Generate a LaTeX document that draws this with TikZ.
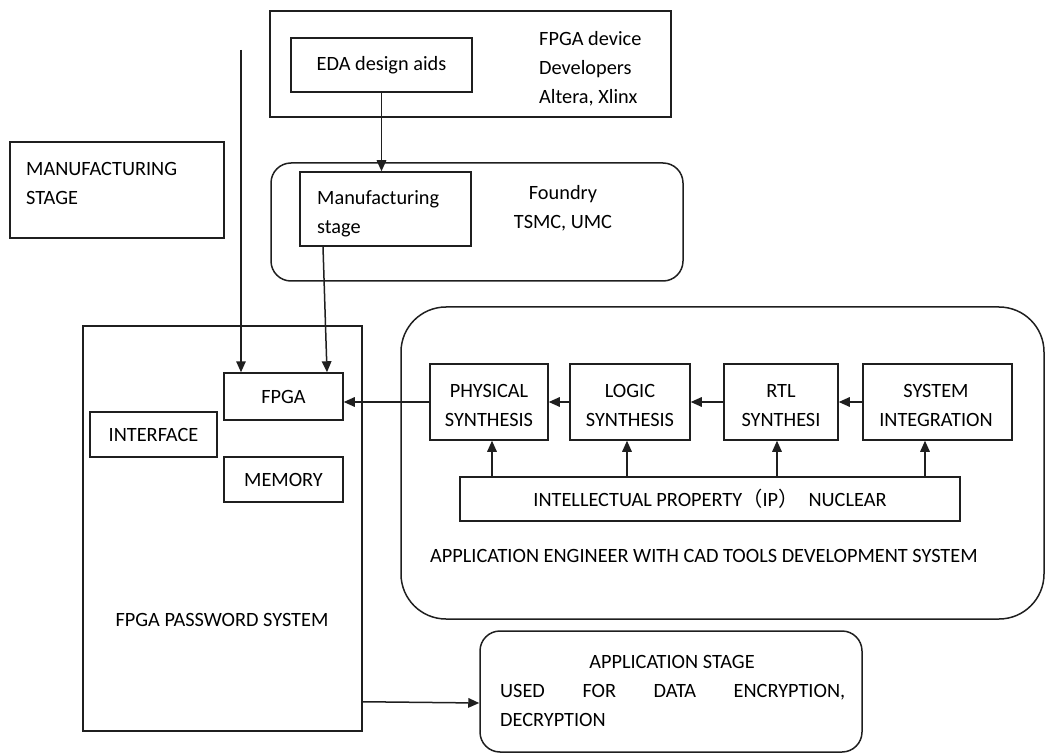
\documentclass[tikz,border=0pt]{standalone}
\usepackage{fontspec}
\setmainfont{Carlito}
\newfontfamily\cjk{Noto Sans CJK SC}
\usetikzlibrary{arrows.meta}
\begin{document}
\begin{tikzpicture}[x=1pt,y=-1pt,
  font=\fontsize{20.3pt}{29pt}\selectfont,
  box/.style={draw=black!88, line width=1.5pt, inner sep=0pt, align=center},
  rbox/.style={box, rounded corners=20pt},
  txt/.style={inner sep=0pt},
  arr/.style={draw=black!88, line width=1.5pt, -{Triangle[length=11pt,width=9.5pt]}}]
\useasboundingbox (0,0) rectangle (1045,754);

% top developers block
\node[box, minimum width=401pt, minimum height=106pt] (dev) at (470.5,64) {};
\node[box, minimum width=181pt, minimum height=54pt] (eda) at (381.5,65) {EDA design aids};
\node[txt, anchor=west, align=left] (devtxt) at (539,68.5) {FPGA device\\Developers\\Altera, Xlinx};

% foundry block
\node[rbox, minimum width=412pt, minimum height=118pt] (fdy) at (477,222) {};
\node[box, minimum width=171pt, minimum height=74pt] (mst) at (385.5,209) {};
\node[txt, anchor=west, align=left] (msttxt) at (317,214) {Manufacturing\\stage};
\node[txt, align=center] (fdytxt) at (563,208) {Foundry\\TSMC, UMC};

% left label box
\node[box, minimum width=214pt, minimum height=96pt] (mfg) at (117,190) {};
\node[txt, anchor=west, align=left] (mfgtxt) at (26,183.5) {MANUFACTURING\\STAGE};

% password system
\node[box, minimum width=279pt, minimum height=405pt] (pw) at (222.5,528.5) {};
\node[box, minimum width=119pt, minimum height=47pt] (fpga) at (283.5,396.5) {FPGA};
\node[box, minimum width=127pt, minimum height=45pt] (iface) at (153.5,434.5) {INTERFACE};
\node[box, minimum width=119pt, minimum height=45pt] (mem) at (283.5,479.5) {MEMORY};
\node[txt] (pwtxt) at (222,620) {FPGA PASSWORD SYSTEM};

% application engineer system
\node[box, rounded corners=45pt, minimum width=643pt, minimum height=312pt] (ae) at (722.5,463) {};
\node[box, minimum width=118pt, minimum height=76pt] (phys) at (489,402) {};
\node[box, minimum width=120pt, minimum height=76pt] (logic) at (630,402) {};
\node[box, minimum width=114pt, minimum height=76pt] (rtl) at (781,402) {};
\node[box, minimum width=149pt, minimum height=76pt] (si) at (937.5,402) {};
\node[txt, align=center] (physl) at (489,405.5) {PHYSICAL\\SYNTHESIS};
\node[txt, align=center] (logicl) at (630,405.5) {LOGIC\\SYNTHESIS};
\node[txt, align=center] (rtll) at (781,405.5) {RTL\\SYNTHESI};
\node[txt, align=center] (sil) at (936,405.5) {SYSTEM\\INTEGRATION};
\node[box, minimum width=500pt, minimum height=44pt] (ip) at (710,499) {INTELLECTUAL PROPERTY{\cjk （}IP{\cjk ）}\enspace NUCLEAR};
\node[txt, anchor=west] (aetxt) at (430,556) {APPLICATION ENGINEER WITH CAD TOOLS DEVELOPMENT SYSTEM};

% application stage
\node[rbox, minimum width=382pt, minimum height=121pt] (app) at (671,691.5) {};
\node[txt] (apptitle) at (672,662) {APPLICATION STAGE};
\node[txt, text width=345pt, align=left, anchor=north west] (appbody) at (500,684.5) {USED\hfill FOR\hfill DATA\hfill ENCRYPTION,\\DECRYPTION};

% connectors
\coordinate (topsrc) at (241,50);
\draw[arr] (topsrc) -- (topsrc |- fpga.north);
\draw[arr] (eda.south) -- (eda.south |- mst.north);
\draw[arr] ([xshift=-62.5pt]mst.south) -- ([xshift=43.5pt]fpga.north);
\draw[arr] (si.west) -- (rtl.east);
\draw[arr] (rtl.west) -- (logic.east);
\draw[arr] (logic.west) -- (phys.east);
\draw[arr] (phys.west) -- (phys.west -| fpga.east);
\coordinate (q1) at ([xshift=3pt]phys.south);
\coordinate (q2) at ([xshift=-3pt]logic.south);
\coordinate (q3) at ([xshift=-4pt]rtl.south);
\coordinate (q4) at ([xshift=-12.5pt]si.south);
\draw[arr] (q1 |- ip.north) -- (q1);
\draw[arr] (q2 |- ip.north) -- (q2);
\draw[arr] (q3 |- ip.north) -- (q3);
\draw[arr] (q4 |- ip.north) -- (q4);
\draw[arr] ([yshift=30pt]pw.south east) -- ([yshift=-11.5pt]app.west);
\end{tikzpicture}
\end{document}
